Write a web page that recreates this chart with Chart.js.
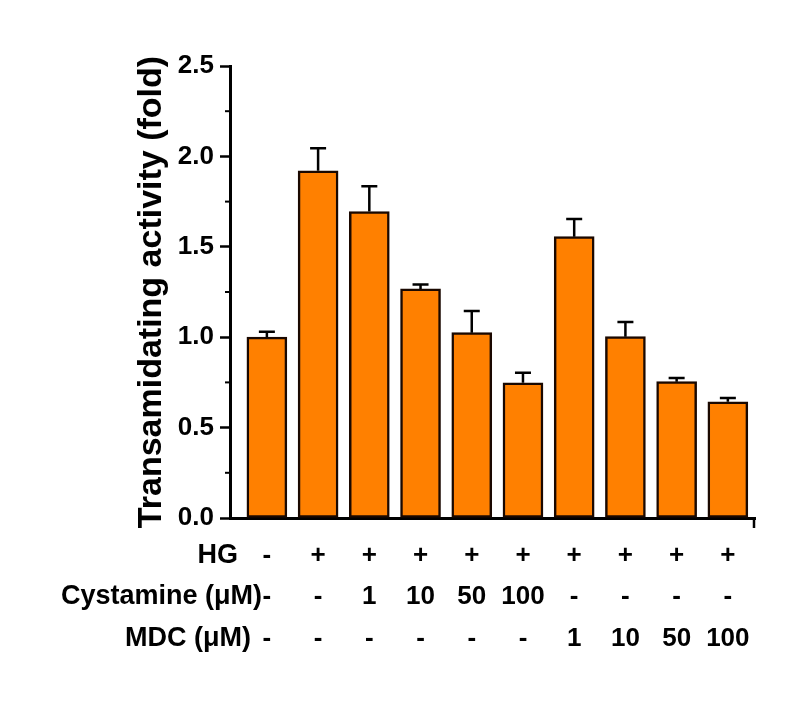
<!DOCTYPE html>
<html>
<head>
<meta charset="utf-8">
<script src="https://cdn.jsdelivr.net/npm/chart.js@4"></script>
<style>
  html, body { margin: 0; padding: 0; background: #fff; }
  #wrap { width: 804px; height: 706px; }
</style>
</head>
<body>
<div id="wrap"><canvas id="chart" width="804" height="706"></canvas></div>
<script>
// Group values (fold)
const groups = [0, 1, 2, 3, 4, 5, 6, 7, 8, 9];
const means = [1.00, 1.92, 1.695, 1.267, 1.025, 0.748, 1.556, 1.003, 0.754, 0.643];
const sem = [0.03, 0.125, 0.14, 0.025, 0.12, 0.056, 0.098, 0.081, 0.021, 0.021];

// Treatment table under the x axis
const rowLabels = ['HG', 'Cystamine (\u03bcM)', 'MDC (\u03bcM)'];
const hgRow = ['-', '+', '+', '+', '+', '+', '+', '+', '+', '+'];
const cystamineRow = ['-', '-', '1', '10', '50', '100', '-', '-', '-', '-'];
const mdcRow = ['-', '-', '-', '-', '-', '-', '1', '10', '50', '100'];

const yTicks = [0, 0.5, 1.0, 1.5, 2.0, 2.5];

const FONT = "'Liberation Sans', Arial, sans-serif";

// Error bars (upper half only)
const errorBars = {
  id: 'errorBars',
  afterDatasetsDraw(chart) {
    const ctx = chart.ctx;
    const meta = chart.getDatasetMeta(0);
    const y = chart.scales.y;
    ctx.save();
    ctx.strokeStyle = '#000';
    ctx.lineWidth = 2.5;
    meta.data.forEach((bar, i) => {
      const top = y.getPixelForValue(means[i] + sem[i]);
      ctx.beginPath();
      ctx.moveTo(bar.x, bar.y);
      ctx.lineTo(bar.x, top);
      ctx.moveTo(bar.x - 8, top);
      ctx.lineTo(bar.x + 8, top);
      ctx.stroke();
    });
    ctx.restore();
  }
};

// Minor ticks, end tick on x axis and the treatment table
const extras = {
  id: 'extras',
  afterDraw(chart) {
    const ctx = chart.ctx;
    const x = chart.scales.x;
    const y = chart.scales.y;
    const area = chart.chartArea;
    ctx.save();
    ctx.strokeStyle = '#000';
    ctx.lineWidth = 2;
    for (let v = 0.25; v < 2.5; v += 0.5) {
      const py = y.getPixelForValue(v);
      ctx.beginPath();
      ctx.moveTo(area.left - 5, py);
      ctx.lineTo(area.left, py);
      ctx.stroke();
    }
    ctx.lineWidth = 2.5;
    ctx.beginPath();
    ctx.moveTo(area.right - 1, area.bottom);
    ctx.lineTo(area.right - 1, area.bottom + 10);
    ctx.stroke();

    ctx.fillStyle = '#000';
    ctx.textBaseline = 'middle';
    const rows = [hgRow, cystamineRow, mdcRow];
    const rowY = [556, 597, 639];
    const labelRight = [238, 262, 251];
    rows.forEach((row, r) => {
      ctx.font = 'bold 27px ' + FONT;
      ctx.textAlign = 'right';
      ctx.fillText(rowLabels[r], labelRight[r], rowY[r]);
      ctx.font = 'bold 26px ' + FONT;
      ctx.textAlign = 'center';
      row.forEach((txt, i) => {
        ctx.fillText(txt, x.getPixelForValue(groups[i]), rowY[r]);
      });
    });
    ctx.restore();
  }
};

new Chart(document.getElementById('chart'), {
  type: 'bar',
  data: {
    datasets: [{
      data: groups.map((g, i) => ({ x: g, y: means[i] })),
      backgroundColor: '#ff8000',
      borderColor: '#1a0800',
      borderWidth: 2.5,
      borderSkipped: false,
      barThickness: 40
    }]
  },
  options: {
    responsive: false,
    animation: false,
    devicePixelRatio: 1,
    layout: { padding: { left: 0, top: 66, right: 49, bottom: 188 } },
    plugins: { legend: { display: false }, tooltip: { enabled: false } },
    scales: {
      x: {
        type: 'linear',
        offset: false,
        min: -0.72,
        max: 9.53,
        ticks: { display: false },
        grid: { display: false, offset: false },
        border: { display: true, color: '#000', width: 3 },
        afterFit(scale) { scale.height = 0; }
      },
      y: {
        min: 0,
        max: 2.5,
        afterBuildTicks(scale) { scale.ticks = yTicks.map(v => ({ value: v })); },
        ticks: {
          color: '#000',
          padding: 6,
          font: { family: FONT, size: 26, weight: 'bold' },
          callback: v => v.toFixed(1)
        },
        grid: { drawOnChartArea: false, tickLength: 10, tickWidth: 2.5, tickColor: '#000' },
        border: { display: true, color: '#000', width: 3 },
        title: {
          display: true,
          text: 'Transamidating activity (fold)',
          color: '#000',
          font: { family: FONT, size: 34, weight: 'bold' },
          padding: { top: 131, bottom: 0 }
        },
        afterFit(scale) { scale.width = 230; }
      }
    }
  },
  plugins: [errorBars, extras]
});
</script>
</body>
</html>
